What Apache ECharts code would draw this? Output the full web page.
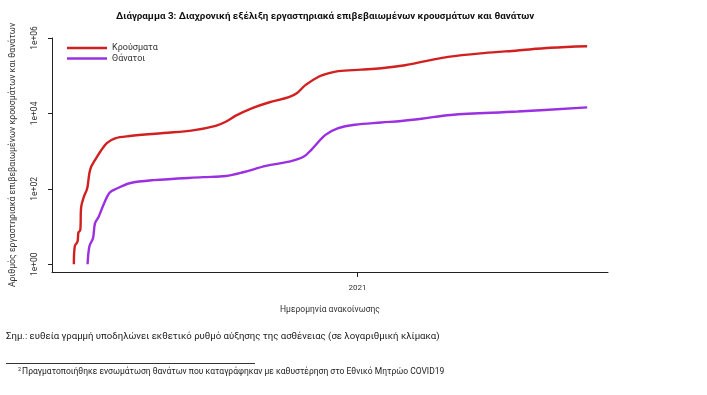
<!DOCTYPE html>
<html>
<head>
<meta charset="utf-8">
<script src="https://cdn.jsdelivr.net/npm/echarts@6/dist/echarts.min.js"></script>
<style>
html,body{margin:0;padding:0;background:#fff;}
#c{width:707px;height:395px;}
</style>
</head>
<body>
<div id="c"></div>
<script>
// ---- Data ----
const casesDates = ['2020-02-26','2020-02-27','2020-03-01','2020-03-02','2020-03-04','2020-03-05','2020-03-08','2020-03-11','2020-03-12','2020-03-14','2020-03-16','2020-03-19','2020-03-26','2020-04-02','2020-04-11','2020-04-27','2020-06-03','2020-07-05','2020-07-30','2020-08-10','2020-08-21','2020-09-08','2020-09-26','2020-10-18','2020-10-27','2020-11-05','2020-11-20','2020-12-01','2020-12-11','2021-01-05','2021-01-27','2021-02-22','2021-03-19','2021-04-10','2021-05-19','2021-06-25','2021-07-31','2021-09-09'];
const casesValues = [1,3,4,7,8,33,62,93,115,263,390,525,977,1620,2190,2510,3020,3550,4680,6030,8710,13800,19500,26900,34700,56200,95500,117000,132000,145000,158000,190000,251000,316000,398000,468000,550000,603000];

const deathsDates = ['2020-03-12','2020-03-14','2020-03-18','2020-03-20','2020-03-24','2020-03-30','2020-04-05','2020-04-13','2020-04-27','2020-05-23','2020-07-16','2020-08-10','2020-08-29','2020-09-23','2020-10-18','2020-11-03','2020-11-12','2020-11-27','2020-12-11','2020-12-29','2021-01-27','2021-02-18','2021-03-12','2021-04-13','2021-06-25','2021-09-09'];
const deathsValues = [1,3,5,12,18,41,79,102,141,170,204,219,275,407,525,708,1120,2690,4070,5010,5750,6310,7240,9120,11200,14450];

const seriesNames = ['Κρούσματα','Θάνατοι'];
const yTickValues = [1, 100, 10000, 1000000];
const yTickLabels = ['1e+00','1e+02','1e+04','1e+06'];
const xTickDates = ['2021-01-01'];
const xTickLabels = ['2021'];

const titleText = 'Διάγραμμα 3: Διαχρονική εξέλιξη εργαστηριακά επιβεβαιωμένων κρουσμάτων και θανάτων';
const yName = 'Αριθμός εργαστηριακά επιβεβαιωμένων κρουσμάτων και θανάτων';
const xName = 'Ημερομηνία ανακοίνωσης';
const noteText = 'Σημ.: ευθεία γραμμή υποδηλώνει εκθετικό ρυθμό αύξησης της ασθένειας (σε λογαριθμική κλίμακα)';
const footText = 'Πραγματοποιήθηκε ενσωμάτωση θανάτων που καταγράφηκαν με καθυστέρηση στο Εθνικό Μητρώο COVID19';

// ---- helpers ----
function ts(s){ const p = s.split('-').map(Number); return Date.UTC(p[0], p[1]-1, p[2]); }
const DAY = 864e5;
const base = ts('2020-02-26');
const xMin = base - 23.9*DAY;
const xMax = base + 583.8*DAY;
const xTickTs = xTickDates.map(ts);

const FONT = 'Roboto';
const chart = echarts.init(document.getElementById('c'), null, {renderer:'canvas'});
chart.setOption({
  backgroundColor:'#fff',
  animation:false,
  textStyle:{fontFamily:FONT},
  title:{
    text:titleText, left:116, top:12, padding:0,
    textStyle:{fontFamily:FONT, fontSize:9.8, fontWeight:'bold', color:'#111'}
  },
  legend:{
    orient:'vertical', left:67, top:43.5, padding:0,
    icon:'rect', itemWidth:40, itemHeight:2.5, itemGap:1.5, itemTextGap:5,
    textStyle:{fontFamily:FONT, fontSize:9, color:'#333', padding:[0,0,0,0]},
    data:seriesNames
  },
  grid:{left:48, right:99, top:38, bottom:123},
  xAxis:{
    type:'value', min:xMin, max:xMax,
    name:xName, nameLocation:'middle', nameGap:33,
    nameTextStyle:{fontFamily:FONT, fontSize:8.5, color:'#333'},
    axisLine:{show:true, lineStyle:{color:'#222', width:1}},
    axisTick:{show:true, length:5, lineStyle:{color:'#222'}, customValues:xTickTs},
    axisLabel:{show:true, margin:12, fontSize:8, color:'#333', customValues:xTickTs,
      formatter:function(v){ const i = xTickTs.indexOf(v); return i>=0 ? xTickLabels[i] : ''; }},
    splitLine:{show:false}
  },
  yAxis:{
    type:'log', logBase:10, min:Math.pow(10,-0.205), max:1e6,
    name:yName, nameLocation:'middle', nameRotate:90, nameGap:35,
    nameTextStyle:{fontFamily:FONT, fontSize:8.7, color:'#333'},
    axisLine:{show:true, lineStyle:{color:'#222', width:1}},
    axisTick:{show:true, length:4, lineStyle:{color:'#222'}, customValues:yTickValues},
    axisLabel:{show:true, rotate:90, margin:13, fontSize:8.5, color:'#333', customValues:yTickValues,
      formatter:function(v){ const i = yTickValues.findIndex(t=>Math.abs(Math.log10(t)-Math.log10(v))<1e-6); return i>=0 ? yTickLabels[i] : ''; }},
    splitLine:{show:false}
  },
  series:[
    {name:seriesNames[0], type:'line', showSymbol:false, symbol:'none', smooth:0.35,
     lineStyle:{color:'#d22020', width:2.4}, itemStyle:{color:'#d22020'},
     data:casesDates.map((d,i)=>[ts(d), casesValues[i]])},
    {name:seriesNames[1], type:'line', showSymbol:false, symbol:'none', smooth:0.35,
     lineStyle:{color:'#9b30e0', width:2.4}, itemStyle:{color:'#9b30e0'},
     data:deathsDates.map((d,i)=>[ts(d), deathsValues[i]])}
  ],
  graphic:[
    {type:'text', left:6, top:332, style:{text:noteText, font:'9.6px '+FONT, fill:'#222'}},
    {type:'line', shape:{x1:6, y1:363.5, x2:255, y2:363.5}, style:{stroke:'#333', lineWidth:1}},
    {type:'text', left:18, top:367, style:{
      text:'{s|2}{t|'+footText+'}',
      rich:{ s:{fontSize:5.5, fontFamily:FONT, fill:'#222', verticalAlign:'top', padding:[0,1,4,0]},
             t:{fontSize:8.5, fontFamily:FONT, fill:'#222'} }
    }}
  ]
});
</script>
</body>
</html>
